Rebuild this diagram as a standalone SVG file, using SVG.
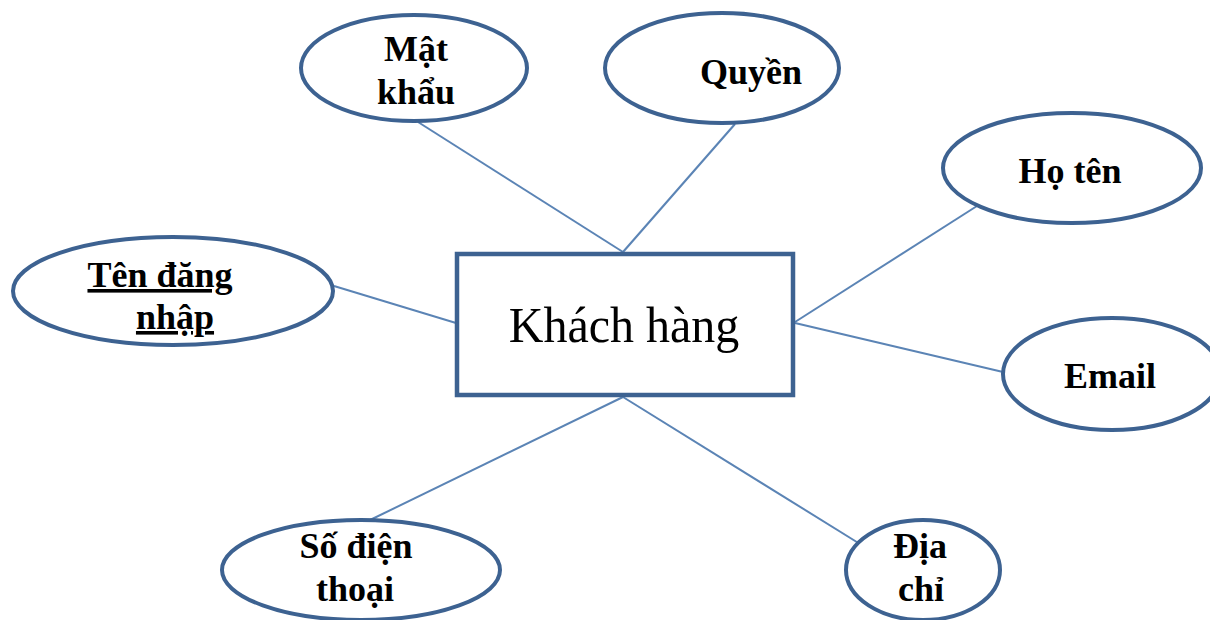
<svg xmlns="http://www.w3.org/2000/svg" width="1210" height="620" viewBox="0 0 1210 620">
  <style>
    .attr { fill: #ffffff; stroke: #3D6291; stroke-width: 4; }
    .entity { fill: #ffffff; stroke: #3D6291; stroke-width: 4.5; }
    .link { stroke: #5B84B5; stroke-width: 2; fill: none; }
    .lbl { font-family: "Liberation Serif", "Times New Roman", serif; font-weight: bold; font-size: 36px; fill: #000000; text-anchor: middle; }
    .ent { font-family: "Liberation Serif", "Times New Roman", serif; font-size: 48px; fill: #000000; text-anchor: middle; }
    .key { text-decoration: underline; }
  </style>
  <rect width="1210" height="620" fill="#ffffff"/>

  <!-- connectors from the entity to its attributes -->
  <g id="connectors">
    <line class="link" x1="623" y1="252" x2="418" y2="122"/>
    <line class="link" x1="623" y1="252" x2="735" y2="124"/>
    <line class="link" x1="795" y1="322" x2="977" y2="206"/>
    <line class="link" x1="795" y1="323" x2="1003" y2="372"/>
    <line class="link" x1="456" y1="323" x2="334" y2="286"/>
    <line class="link" x1="623" y1="397" x2="368" y2="521"/>
    <line class="link" x1="623" y1="397" x2="860" y2="544"/>
  </g>

  <g id="khach-hang">
    <rect class="entity" x="457" y="254" width="336" height="141"/>
    <text class="ent" transform="translate(624,342) scale(1,1.05)">Khách hàng</text>
  </g>

  <g id="mat-khau">
    <ellipse class="attr" cx="414" cy="68" rx="113" ry="53"/>
    <text class="lbl" x="416" y="61">Mật</text>
    <text class="lbl" x="416" y="104">khẩu</text>
  </g>

  <g id="quyen">
    <ellipse class="attr" cx="722" cy="68" rx="117" ry="55"/>
    <text class="lbl" x="751" y="84">Quyền</text>
  </g>

  <g id="ho-ten">
    <ellipse class="attr" cx="1072" cy="168" rx="129" ry="55"/>
    <text class="lbl" x="1070" y="183">Họ tên</text>
  </g>

  <g id="email">
    <ellipse class="attr" cx="1112" cy="374" rx="109" ry="56"/>
    <text class="lbl" x="1110" y="388">Email</text>
  </g>

  <g id="ten-dang-nhap">
    <ellipse class="attr" cx="173" cy="291" rx="160" ry="54"/>
    <text class="lbl key" x="160" y="287">Tên đăng</text>
    <text class="lbl key" x="175" y="329">nhập</text>
  </g>

  <g id="so-dien-thoai">
    <ellipse class="attr" cx="361" cy="570" rx="139" ry="50"/>
    <text class="lbl" x="356" y="558">Số điện</text>
    <text class="lbl" x="355" y="601">thoại</text>
  </g>

  <g id="dia-chi">
    <ellipse class="attr" cx="923" cy="570" rx="77" ry="50"/>
    <text class="lbl" x="920" y="558">Địa</text>
    <text class="lbl" x="921" y="601">chỉ</text>
  </g>
</svg>
